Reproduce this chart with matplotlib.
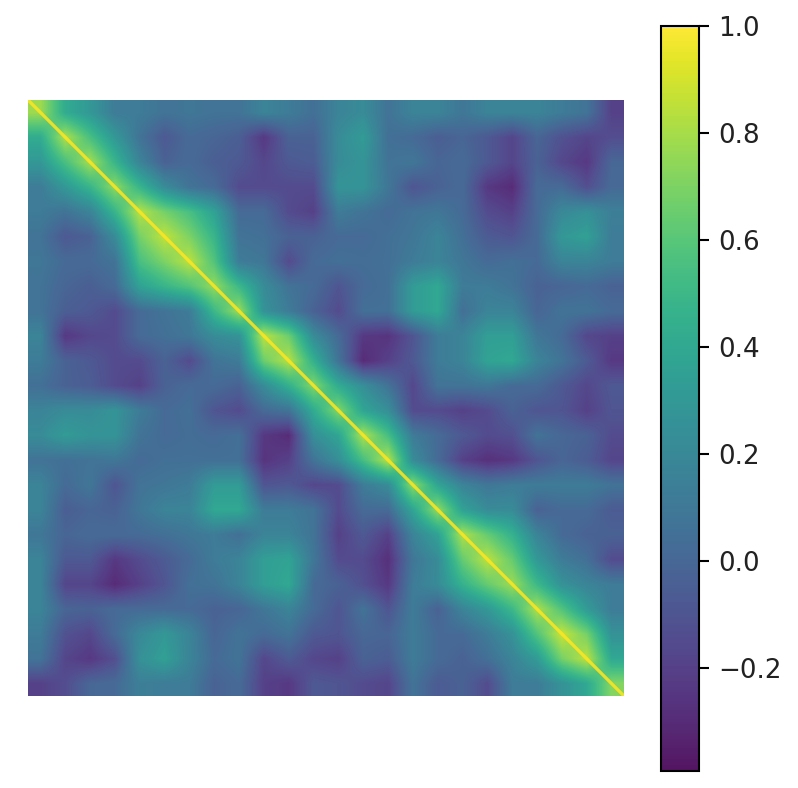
import numpy as np
import matplotlib
matplotlib.use("Agg")
import matplotlib.pyplot as plt

# Upper triangle of the correlation matrix, coarse estimate (row i, columns i..23)
upper_rows = [
    [.78,.42,.30,.12,.12,.07,.09,.07,.07,.17,.12,.05, .17,.22,.07,.17,.17,.09,.17,.17,.17,.12,.07,-.20],
    [.82,.55,.30,.07,-.08,.02,-.01,-.05,-.24,-.03,-.03, .22,.32,.05,.02,-.05,-.01,-.08,-.18,-.01,-.12,-.18,-.14],
    [.80,.48,.17,-.03,.02,-.05,-.08,-.17,-.08,-.06, .22,.27,.07,.09,-.01,.02,-.08,-.18,-.03,-.17,-.24,.00],
    [.75,.48,.22,.07,.02,-.15,-.15,-.15,-.15, .27,.27,.09,-.10,-.03,.02,-.24,-.30,.02,.02,-.13,.02],
    [.84,.68,.55,.36,.02,.02,-.15,-.20, .12,.07,.02,.07,.09,.02,-.15,-.20,.02,.20,.25,.14],
    [.86,.70,.48,.07,.05,-.03,-.03, .02,.02,.05,.09,.17,.05,-.07,-.10,.02,.30,.35,.12],
    [.85,.58,.12,.09,-.15,.02, .05,.04,.05,.12,.17,.09,.02,.05,.02,.17,.17,.12],
    [.76,.50,.22,.07,.02, -.10,.02,.05,.32,.40,.12,.12,.07,-.03,-.01,.02,-.03],
    [.78,.26,.12,-.03, -.15,.05,.05,.32,.40,.05,.17,.17,-.01,.07,.07,.02],
    [.85,.66,.22, .02,-.24,-.26,-.10,.12,.17,.34,.34,.09,.02,-.17,-.20],
    [.84,.45, .07,-.30,-.20,-.08,.12,.17,.37,.40,.17,.07,-.07,-.24],
    [.72, .42,.24,.07,-.17,.07,.07,.09,.02,.02,-.08,-.17,-.08],
    [.72,.38,.24,-.15,-.15,-.20,-.15,-.03,-.10,-.10,-.20,-.10],
    [.82,.54,.12,.02,-.08,-.15,-.13,.07,.00,-.03,-.15],
    [.84,.22,.02,-.20,-.28,-.24,-.10,-.01,-.06,-.18],
    [.75,.38,.17,.09,.12,.12,.12,.12,.07],
    [.76,.36,.22,.22,-.03,.02,.02,-.07],
    [.82,.64,.46,.17,.02,-.03,-.03],
    [.85,.64,.30,.12,.05,-.15],
    [.78,.50,.26,.17,.12],
    [.82,.58,.32,.12],
    [.88,.68,.26],
    [.85,.40],
    [.72],
]
diagonal = [1.0] * 24
cbar_ticks = [-0.2, 0.0, 0.2, 0.4, 0.6, 0.8, 1.0]
vmin_value, vmax_value = -0.393, 1.0

n = len(upper_rows)
matrix = np.zeros((n, n))
for i, row in enumerate(upper_rows):
    matrix[i, i:] = row
    matrix[i:, i] = row

W, H = 798, 788
fig = plt.figure(figsize=(W / 100, H / 100), dpi=100)
ax = fig.add_axes([28 / W, 1 - 696 / H, 596 / W, 596 / H])
im = ax.imshow(matrix, cmap="viridis", vmin=vmin_value, vmax=vmax_value,
               interpolation="bilinear", aspect="equal", alpha=0.92)
idx = np.arange(n, dtype=float)
ax.plot(np.r_[-0.5, idx, n - 0.5], np.r_[-0.5, idx, n - 0.5],
        color=im.cmap(im.norm(diagonal[0])), lw=2.3, alpha=0.85,
        solid_capstyle="butt")
ax.set_xlim(-0.5, n - 0.5)
ax.set_ylim(n - 0.5, -0.5)
ax.axis("off")

cax = fig.add_axes([661 / W, 1 - 771 / H, 38 / W, 745 / H])
cb = fig.colorbar(im, cax=cax)
cb.set_ticks(cbar_ticks)
cb.ax.tick_params(labelsize=18.8, length=7.5, width=1.5, pad=6, labelcolor="#222222")
cb.outline.set_linewidth(1.5)

fig.savefig("out.png", dpi=100)
